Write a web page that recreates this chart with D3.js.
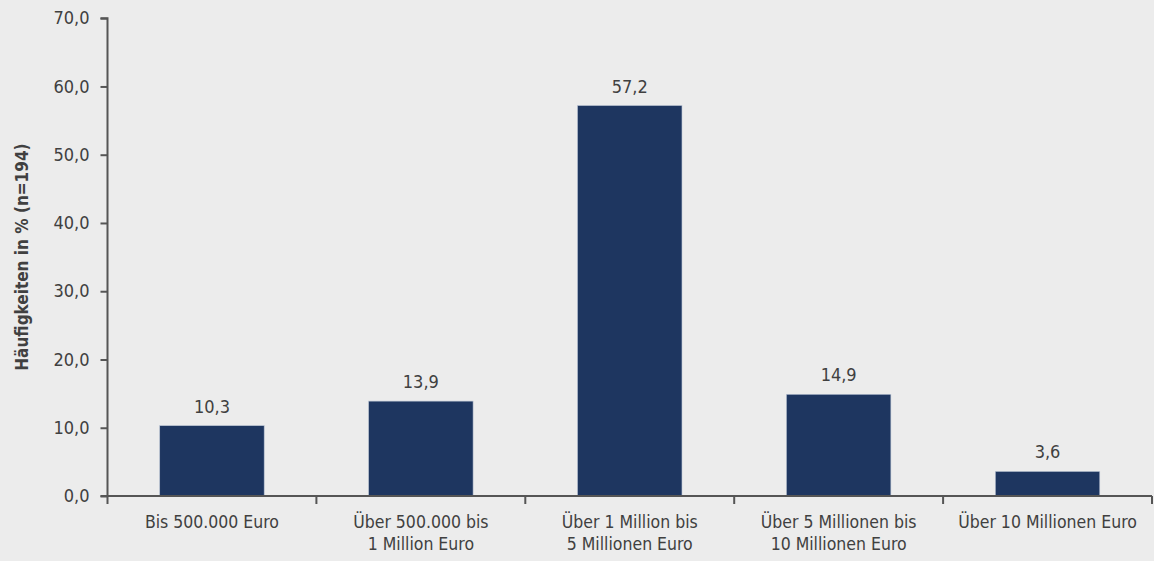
<!DOCTYPE html>
<html>
<head>
<meta charset="utf-8">
<script src="https://cdn.jsdelivr.net/npm/d3@7"></script>
<style>
  html, body { margin: 0; padding: 0; background: #ececec; }
  svg { display: block; }
  text { font-family: "Liberation Sans Narrow", "DejaVu Sans Condensed", "Roboto Condensed", sans-serif; fill: #404040; }
</style>
</head>
<body>
<svg id="chart" width="1154" height="561"></svg>
<script>
// Kategorien (Umsatzklassen) und Häufigkeiten in %
const categories = [
  ["Bis 500.000 Euro"],
  ["Über 500.000 bis", "1 Million Euro"],
  ["Über 1 Million bis", "5 Millionen Euro"],
  ["Über 5 Millionen bis", "10 Millionen Euro"],
  ["Über 10 Millionen Euro"]
];
const values = [10.3, 13.9, 57.2, 14.9, 3.6];
const yTicks = [0, 10, 20, 30, 40, 50, 60, 70];
const yTitle = "Häufigkeiten in % (n=194)";

const svg = d3.select("#chart");
const margin = { left: 107.5, right: 2, top: 18.2, bottom: 65 };
const W = 1154, H = 561;

const keys = categories.map(c => c.join(" "));
const x = d3.scaleBand().domain(keys).range([margin.left, W - margin.right]).paddingInner(0.5).paddingOuter(0.25);
const xEdge = d3.scaleBand().domain(keys).range([margin.left, W - margin.right]).padding(0);
const y = d3.scaleLinear().domain([0, 70]).range([H - margin.bottom, margin.top]);

const fmt = v => v.toFixed(1).replace(".", ",");

// Balken
svg.append("g").selectAll("rect").data(values).join("rect")
  .attr("x", (d, i) => x(keys[i]))
  .attr("width", x.bandwidth())
  .attr("y", d => y(d))
  .attr("height", d => y(0) - y(d))
  .attr("fill", "#1e3660")
  .attr("stroke", "#b9c3d3")
  .attr("stroke-width", 0.6);

// Wertebeschriftungen
svg.append("g").selectAll("text").data(values).join("text")
  .attr("x", (d, i) => x(keys[i]) + x.bandwidth() / 2)
  .attr("y", d => y(d) - 13)
  .attr("text-anchor", "middle")
  .attr("font-size", 18)
  .text(d => fmt(d));

// Y-Achse
const yAxis = svg.append("g")
  .attr("transform", `translate(${margin.left},0)`)
  .call(d3.axisLeft(y).tickValues(yTicks).tickFormat(fmt).tickSize(7).tickPadding(11));
yAxis.select(".domain").attr("stroke", "#555").attr("stroke-width", 2).attr("d", `M-7,${y(70)}H0V${y(0)}`);
yAxis.selectAll(".tick line").attr("stroke", "#555").attr("stroke-width", 2);
yAxis.selectAll(".tick text").attr("font-size", 18).attr("fill", "#404040")
  .style("font-family", '"Liberation Sans Narrow", "DejaVu Sans Condensed", sans-serif');

// X-Achse mit Trennstrichen zwischen den Kategorien
const xg = svg.append("g");
xg.append("line")
  .attr("x1", margin.left - 7).attr("x2", W - margin.right)
  .attr("y1", y(0)).attr("y2", y(0))
  .attr("stroke", "#555").attr("stroke-width", 2);
const edges = keys.map(k => xEdge(k)).concat([W - margin.right]);
xg.selectAll("line.sep").data(edges).join("line")
  .attr("class", "sep")
  .attr("x1", d => d).attr("x2", d => d)
  .attr("y1", y(0)).attr("y2", y(0) + 8)
  .attr("stroke", "#555").attr("stroke-width", 2);

// Kategoriebeschriftungen
const lab = xg.selectAll("text.cat").data(categories).join("text")
  .attr("class", "cat")
  .attr("text-anchor", "middle")
  .attr("font-size", 17.5)
  .attr("x", (d, i) => xEdge(keys[i]) + xEdge.bandwidth() / 2)
  .attr("y", y(0) + 32);
lab.selectAll("tspan").data(d => d).join("tspan")
  .attr("x", function () { return d3.select(this.parentNode).attr("x"); })
  .attr("dy", (d, i) => i === 0 ? 0 : 22)
  .text(d => d);

// Achsentitel
svg.append("text")
  .attr("transform", `translate(28,${(y(0) + y(70)) / 2}) rotate(-90)`)
  .attr("text-anchor", "middle")
  .attr("font-size", 17)
  .attr("font-weight", "bold")
  .text(yTitle);
</script>
</body>
</html>
